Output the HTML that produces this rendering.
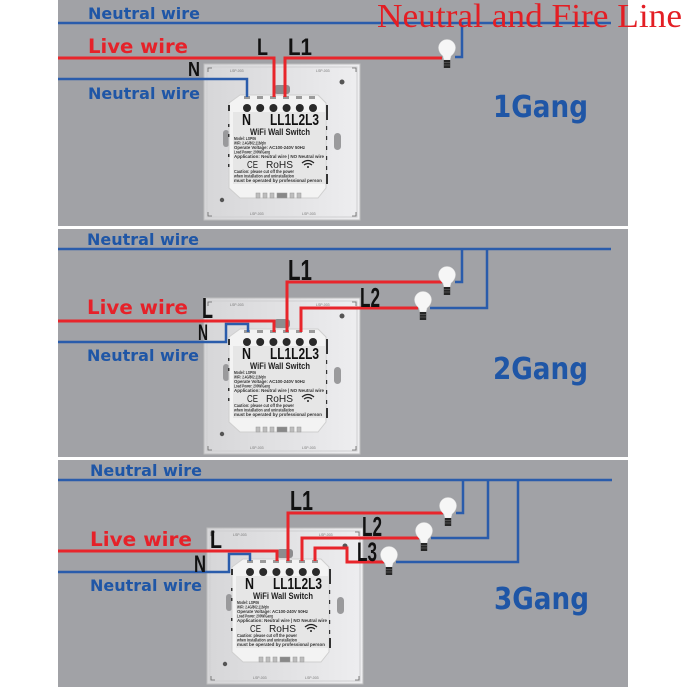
<!DOCTYPE html>
<html><head><meta charset="utf-8"><style>
html,body{margin:0;padding:0;background:#fff;}
svg{display:block;}
</style></head><body>
<svg width="690" height="690" viewBox="0 0 690 690" xmlns="http://www.w3.org/2000/svg">
<defs>
<linearGradient id="pg" x1="0" y1="0" x2="1" y2="0">
<stop offset="0" stop-color="#d6d6d8"/><stop offset="0.6" stop-color="#e4e4e6"/><stop offset="1" stop-color="#eeeef0"/>
</linearGradient>
</defs>
<rect width="690" height="690" fill="#fff"/>
<!-- panels -->
<rect x="58" y="0" width="570" height="226" fill="#a1a2a6"/>
<rect x="58" y="229" width="570" height="228" fill="#a1a2a6"/>
<rect x="58" y="460" width="570" height="227" fill="#a1a2a6"/>

<!-- ===== switch 1 ===== -->
<g transform="translate(204,64)">
 <rect x="0" y="0" width="156" height="156" fill="url(#pg)" stroke="#bdbdbf"/>
 <rect x="3" y="3" width="150" height="150" fill="none" stroke="#cfcfd1"/>
 <path d="M4 8V4H8M148 4H152V8M4 148V152H8M152 148V152H148" stroke="#666" stroke-width="0.8" fill="none"/>
 <text x="26" y="8" font-family="Liberation Sans, sans-serif" font-size="3.5" fill="#777">LSP-003</text>
 <text x="112" y="8" font-family="Liberation Sans, sans-serif" font-size="3.5" fill="#777">LSP-003</text>
 <text x="46" y="151" font-family="Liberation Sans, sans-serif" font-size="3.5" fill="#777">LSP-003</text>
 <text x="98" y="151" font-family="Liberation Sans, sans-serif" font-size="3.5" fill="#777">LSP-003</text>
 <rect x="70" y="21" width="16" height="9" rx="3" fill="#8c8c8e"/>
 <circle cx="138" cy="18" r="2.5" fill="#555"/>
 <circle cx="18" cy="136" r="2.2" fill="#555"/>
 <rect x="19" y="66" width="6" height="17" rx="3" fill="#9a9a9c"/>
 <rect x="130" y="69" width="7" height="17" rx="3.5" fill="#9a9a9c"/>
 <polygon points="36,31 114,31 122,39 122,124 114,134 36,134 25,124 25,39" fill="#f3f3f3" stroke="#cfcfcf"/>
 <rect x="29" y="48" width="92" height="72" fill="#e6e6e6"/>
 <g fill="#9a9a9a"><rect x="40" y="32" width="6" height="3"/><rect x="53" y="32" width="6" height="3"/><rect x="66" y="32" width="6" height="3"/><rect x="79" y="32" width="6" height="3"/><rect x="92" y="32" width="6" height="3"/><rect x="105" y="32" width="6" height="3"/></g>
 <g fill="#2a2a2a"><circle cx="43" cy="44" r="4"/><circle cx="56.2" cy="44" r="4"/><circle cx="69.4" cy="44" r="4"/><circle cx="82.6" cy="44" r="4"/><circle cx="95.8" cy="44" r="4"/><circle cx="109" cy="44" r="4"/></g>
 <g fill="#333"><rect x="24" y="41" width="2" height="6"/><rect x="122" y="41" width="2" height="15"/><rect x="24" y="60" width="1.5" height="3"/><rect x="24" y="70" width="1.5" height="3"/><rect x="24" y="90" width="1.5" height="3"/><rect x="24" y="100" width="1.5" height="3"/><rect x="122" y="62" width="1.2" height="4"/><rect x="122" y="72" width="1.2" height="4"/><rect x="122" y="82" width="1.2" height="4"/><rect x="122" y="92" width="1.2" height="4"/><rect x="122" y="102" width="1.2" height="4"/><rect x="122" y="110" width="2" height="10"/></g>
 <text x="38" y="61" font-family="Liberation Sans, sans-serif" font-weight="bold" font-size="16" fill="#111" textLength="9" lengthAdjust="spacingAndGlyphs">N</text>
 <text x="66" y="61" font-family="Liberation Sans, sans-serif" font-weight="bold" font-size="16" fill="#111" textLength="49" lengthAdjust="spacingAndGlyphs">LL1L2L3</text>
 <text x="46" y="71" font-family="Liberation Sans, sans-serif" font-weight="bold" font-size="9" fill="#222" textLength="60" lengthAdjust="spacingAndGlyphs">WiFi Wall Switch</text>
 <g font-family="Liberation Sans, sans-serif" font-weight="bold" font-size="4.3" fill="#333">
  <text x="30" y="76" textLength="22" lengthAdjust="spacingAndGlyphs">Model: LSP06</text>
  <text x="30" y="80.5" textLength="32" lengthAdjust="spacingAndGlyphs">WiFi: 2.4G/802.11b/g/n</text>
  <text x="30" y="85" textLength="71" lengthAdjust="spacingAndGlyphs">Operate Voltage: AC100-240V 50Hz</text>
  <text x="30" y="89.5" textLength="36" lengthAdjust="spacingAndGlyphs">Load Power: 200W/Gang</text>
  <text x="30" y="94" textLength="90" lengthAdjust="spacingAndGlyphs">Application: Neutral wire | NO Neutral wire</text>
  <text x="30" y="109" textLength="60" lengthAdjust="spacingAndGlyphs">Caution: please cut off the power</text>
  <text x="30" y="113.5" textLength="60" lengthAdjust="spacingAndGlyphs">when installation and uninstallation</text>
  <text x="30" y="118" textLength="88" lengthAdjust="spacingAndGlyphs">must be operated by professional person</text>
 </g>
 <text x="43" y="104" font-family="Liberation Sans, sans-serif" font-size="10" fill="#222" textLength="11" lengthAdjust="spacingAndGlyphs">CE</text>
 <text x="62" y="104" font-family="Liberation Sans, sans-serif" font-size="10" fill="#222" textLength="27" lengthAdjust="spacingAndGlyphs">RoHS</text>
 <g fill="none" stroke="#222" stroke-width="1.2"><path d="M98 99 Q104 94 110 99"/><path d="M100 101 Q104 98 108 101"/></g><circle cx="104" cy="103" r="1" fill="#222"/>
 <g fill="#bdbdbd" stroke="#999" stroke-width="0.5"><rect x="52" y="129" width="4" height="5"/><rect x="59" y="129" width="4" height="5"/><rect x="66" y="129" width="4" height="5"/><rect x="73" y="129" width="10" height="5" fill="#888"/><rect x="86" y="129" width="4" height="5"/><rect x="93" y="129" width="4" height="5"/></g>
</g>

<!-- ===== switch 2 ===== -->
<g transform="translate(204,298)">
 <rect x="0" y="0" width="156" height="156" fill="url(#pg)" stroke="#bdbdbf"/>
 <rect x="3" y="3" width="150" height="150" fill="none" stroke="#cfcfd1"/>
 <path d="M4 8V4H8M148 4H152V8M4 148V152H8M152 148V152H148" stroke="#666" stroke-width="0.8" fill="none"/>
 <text x="26" y="8" font-family="Liberation Sans, sans-serif" font-size="3.5" fill="#777">LSP-003</text>
 <text x="112" y="8" font-family="Liberation Sans, sans-serif" font-size="3.5" fill="#777">LSP-003</text>
 <text x="46" y="151" font-family="Liberation Sans, sans-serif" font-size="3.5" fill="#777">LSP-003</text>
 <text x="98" y="151" font-family="Liberation Sans, sans-serif" font-size="3.5" fill="#777">LSP-003</text>
 <rect x="70" y="21" width="16" height="9" rx="3" fill="#8c8c8e"/>
 <circle cx="138" cy="18" r="2.5" fill="#555"/>
 <circle cx="18" cy="136" r="2.2" fill="#555"/>
 <rect x="19" y="66" width="6" height="17" rx="3" fill="#9a9a9c"/>
 <rect x="130" y="69" width="7" height="17" rx="3.5" fill="#9a9a9c"/>
 <polygon points="36,31 114,31 122,39 122,124 114,134 36,134 25,124 25,39" fill="#f3f3f3" stroke="#cfcfcf"/>
 <rect x="29" y="48" width="92" height="72" fill="#e6e6e6"/>
 <g fill="#9a9a9a"><rect x="40" y="32" width="6" height="3"/><rect x="53" y="32" width="6" height="3"/><rect x="66" y="32" width="6" height="3"/><rect x="79" y="32" width="6" height="3"/><rect x="92" y="32" width="6" height="3"/><rect x="105" y="32" width="6" height="3"/></g>
 <g fill="#2a2a2a"><circle cx="43" cy="44" r="4"/><circle cx="56.2" cy="44" r="4"/><circle cx="69.4" cy="44" r="4"/><circle cx="82.6" cy="44" r="4"/><circle cx="95.8" cy="44" r="4"/><circle cx="109" cy="44" r="4"/></g>
 <g fill="#333"><rect x="24" y="41" width="2" height="6"/><rect x="122" y="41" width="2" height="15"/><rect x="24" y="60" width="1.5" height="3"/><rect x="24" y="70" width="1.5" height="3"/><rect x="24" y="90" width="1.5" height="3"/><rect x="24" y="100" width="1.5" height="3"/><rect x="122" y="62" width="1.2" height="4"/><rect x="122" y="72" width="1.2" height="4"/><rect x="122" y="82" width="1.2" height="4"/><rect x="122" y="92" width="1.2" height="4"/><rect x="122" y="102" width="1.2" height="4"/><rect x="122" y="110" width="2" height="10"/></g>
 <text x="38" y="61" font-family="Liberation Sans, sans-serif" font-weight="bold" font-size="16" fill="#111" textLength="9" lengthAdjust="spacingAndGlyphs">N</text>
 <text x="66" y="61" font-family="Liberation Sans, sans-serif" font-weight="bold" font-size="16" fill="#111" textLength="49" lengthAdjust="spacingAndGlyphs">LL1L2L3</text>
 <text x="46" y="71" font-family="Liberation Sans, sans-serif" font-weight="bold" font-size="9" fill="#222" textLength="60" lengthAdjust="spacingAndGlyphs">WiFi Wall Switch</text>
 <g font-family="Liberation Sans, sans-serif" font-weight="bold" font-size="4.3" fill="#333">
  <text x="30" y="76" textLength="22" lengthAdjust="spacingAndGlyphs">Model: LSP06</text>
  <text x="30" y="80.5" textLength="32" lengthAdjust="spacingAndGlyphs">WiFi: 2.4G/802.11b/g/n</text>
  <text x="30" y="85" textLength="71" lengthAdjust="spacingAndGlyphs">Operate Voltage: AC100-240V 50Hz</text>
  <text x="30" y="89.5" textLength="36" lengthAdjust="spacingAndGlyphs">Load Power: 200W/Gang</text>
  <text x="30" y="94" textLength="90" lengthAdjust="spacingAndGlyphs">Application: Neutral wire | NO Neutral wire</text>
  <text x="30" y="109" textLength="60" lengthAdjust="spacingAndGlyphs">Caution: please cut off the power</text>
  <text x="30" y="113.5" textLength="60" lengthAdjust="spacingAndGlyphs">when installation and uninstallation</text>
  <text x="30" y="118" textLength="88" lengthAdjust="spacingAndGlyphs">must be operated by professional person</text>
 </g>
 <text x="43" y="104" font-family="Liberation Sans, sans-serif" font-size="10" fill="#222" textLength="11" lengthAdjust="spacingAndGlyphs">CE</text>
 <text x="62" y="104" font-family="Liberation Sans, sans-serif" font-size="10" fill="#222" textLength="27" lengthAdjust="spacingAndGlyphs">RoHS</text>
 <g fill="none" stroke="#222" stroke-width="1.2"><path d="M98 99 Q104 94 110 99"/><path d="M100 101 Q104 98 108 101"/></g><circle cx="104" cy="103" r="1" fill="#222"/>
 <g fill="#bdbdbd" stroke="#999" stroke-width="0.5"><rect x="52" y="129" width="4" height="5"/><rect x="59" y="129" width="4" height="5"/><rect x="66" y="129" width="4" height="5"/><rect x="73" y="129" width="10" height="5" fill="#888"/><rect x="86" y="129" width="4" height="5"/><rect x="93" y="129" width="4" height="5"/></g>
</g>

<!-- ===== switch 3 ===== -->
<g transform="translate(207,528)">
 <rect x="0" y="0" width="156" height="156" fill="url(#pg)" stroke="#bdbdbf"/>
 <rect x="3" y="3" width="150" height="150" fill="none" stroke="#cfcfd1"/>
 <path d="M4 8V4H8M148 4H152V8M4 148V152H8M152 148V152H148" stroke="#666" stroke-width="0.8" fill="none"/>
 <text x="26" y="8" font-family="Liberation Sans, sans-serif" font-size="3.5" fill="#777">LSP-003</text>
 <text x="112" y="8" font-family="Liberation Sans, sans-serif" font-size="3.5" fill="#777">LSP-003</text>
 <text x="46" y="151" font-family="Liberation Sans, sans-serif" font-size="3.5" fill="#777">LSP-003</text>
 <text x="98" y="151" font-family="Liberation Sans, sans-serif" font-size="3.5" fill="#777">LSP-003</text>
 <rect x="70" y="21" width="16" height="9" rx="3" fill="#8c8c8e"/>
 <circle cx="138" cy="18" r="2.5" fill="#555"/>
 <circle cx="18" cy="136" r="2.2" fill="#555"/>
 <rect x="19" y="66" width="6" height="17" rx="3" fill="#9a9a9c"/>
 <rect x="130" y="69" width="7" height="17" rx="3.5" fill="#9a9a9c"/>
 <polygon points="36,31 114,31 122,39 122,124 114,134 36,134 25,124 25,39" fill="#f3f3f3" stroke="#cfcfcf"/>
 <rect x="29" y="48" width="92" height="72" fill="#e6e6e6"/>
 <g fill="#9a9a9a"><rect x="40" y="32" width="6" height="3"/><rect x="53" y="32" width="6" height="3"/><rect x="66" y="32" width="6" height="3"/><rect x="79" y="32" width="6" height="3"/><rect x="92" y="32" width="6" height="3"/><rect x="105" y="32" width="6" height="3"/></g>
 <g fill="#2a2a2a"><circle cx="43" cy="44" r="4"/><circle cx="56.2" cy="44" r="4"/><circle cx="69.4" cy="44" r="4"/><circle cx="82.6" cy="44" r="4"/><circle cx="95.8" cy="44" r="4"/><circle cx="109" cy="44" r="4"/></g>
 <g fill="#333"><rect x="24" y="41" width="2" height="6"/><rect x="122" y="41" width="2" height="15"/><rect x="24" y="60" width="1.5" height="3"/><rect x="24" y="70" width="1.5" height="3"/><rect x="24" y="90" width="1.5" height="3"/><rect x="24" y="100" width="1.5" height="3"/><rect x="122" y="62" width="1.2" height="4"/><rect x="122" y="72" width="1.2" height="4"/><rect x="122" y="82" width="1.2" height="4"/><rect x="122" y="92" width="1.2" height="4"/><rect x="122" y="102" width="1.2" height="4"/><rect x="122" y="110" width="2" height="10"/></g>
 <text x="38" y="61" font-family="Liberation Sans, sans-serif" font-weight="bold" font-size="16" fill="#111" textLength="9" lengthAdjust="spacingAndGlyphs">N</text>
 <text x="66" y="61" font-family="Liberation Sans, sans-serif" font-weight="bold" font-size="16" fill="#111" textLength="49" lengthAdjust="spacingAndGlyphs">LL1L2L3</text>
 <text x="46" y="71" font-family="Liberation Sans, sans-serif" font-weight="bold" font-size="9" fill="#222" textLength="60" lengthAdjust="spacingAndGlyphs">WiFi Wall Switch</text>
 <g font-family="Liberation Sans, sans-serif" font-weight="bold" font-size="4.3" fill="#333">
  <text x="30" y="76" textLength="22" lengthAdjust="spacingAndGlyphs">Model: LSP06</text>
  <text x="30" y="80.5" textLength="32" lengthAdjust="spacingAndGlyphs">WiFi: 2.4G/802.11b/g/n</text>
  <text x="30" y="85" textLength="71" lengthAdjust="spacingAndGlyphs">Operate Voltage: AC100-240V 50Hz</text>
  <text x="30" y="89.5" textLength="36" lengthAdjust="spacingAndGlyphs">Load Power: 200W/Gang</text>
  <text x="30" y="94" textLength="90" lengthAdjust="spacingAndGlyphs">Application: Neutral wire | NO Neutral wire</text>
  <text x="30" y="109" textLength="60" lengthAdjust="spacingAndGlyphs">Caution: please cut off the power</text>
  <text x="30" y="113.5" textLength="60" lengthAdjust="spacingAndGlyphs">when installation and uninstallation</text>
  <text x="30" y="118" textLength="88" lengthAdjust="spacingAndGlyphs">must be operated by professional person</text>
 </g>
 <text x="43" y="104" font-family="Liberation Sans, sans-serif" font-size="10" fill="#222" textLength="11" lengthAdjust="spacingAndGlyphs">CE</text>
 <text x="62" y="104" font-family="Liberation Sans, sans-serif" font-size="10" fill="#222" textLength="27" lengthAdjust="spacingAndGlyphs">RoHS</text>
 <g fill="none" stroke="#222" stroke-width="1.2"><path d="M98 99 Q104 94 110 99"/><path d="M100 101 Q104 98 108 101"/></g><circle cx="104" cy="103" r="1" fill="#222"/>
 <g fill="#bdbdbd" stroke="#999" stroke-width="0.5"><rect x="52" y="129" width="4" height="5"/><rect x="59" y="129" width="4" height="5"/><rect x="66" y="129" width="4" height="5"/><rect x="73" y="129" width="10" height="5" fill="#888"/><rect x="86" y="129" width="4" height="5"/><rect x="93" y="129" width="4" height="5"/></g>
</g>

<!-- ===== wires ===== -->
<g fill="none" stroke-linejoin="miter">
 <!-- panel 1 -->
 <g stroke="#2a5cab" stroke-width="2.5">
  <path d="M58 23H611"/>
  <path d="M455 57H462V23"/>
  <path d="M58 79H247V97"/>
 </g>
 <g stroke="#e8252b" stroke-width="3">
  <path d="M58 58H274V97"/>
  <path d="M285 97V58H442"/>
 </g>
 <!-- panel 2 -->
 <g stroke="#2a5cab" stroke-width="2.5">
  <path d="M58 249H611"/>
  <path d="M455 282H462V249"/>
  <path d="M430 308H487V249"/>
  <path d="M58 342H226V324H248V332"/>
 </g>
 <g stroke="#e8252b" stroke-width="3">
  <path d="M58 321H274V332"/>
  <path d="M287 332V282H442"/>
  <path d="M301 332V308H418"/>
 </g>
 <!-- panel 3 -->
 <g stroke="#2a5cab" stroke-width="2.5">
  <path d="M58 480H612"/>
  <path d="M456 513H463V480"/>
  <path d="M431 538H488V480"/>
  <path d="M396 562H518V480"/>
  <path d="M58 572H229V554H250V561"/>
 </g>
 <g stroke="#e8252b" stroke-width="3">
  <path d="M58 551H277V561"/>
  <path d="M288 561V513H443"/>
  <path d="M302 561V538H419"/>
  <path d="M315 561V548H347V562H384"/>
 </g>
</g>

<!-- ===== bulbs ===== -->
<g>
 <g transform="translate(447,48)"><path d="M-8.5 0A8.5 8.5 0 1 1 8.5 0Q8 5 4 8L3 12H-3L-4 8Q-8 5 -8.5 0Z" fill="#f6f6f6" stroke="#dcdcdc" stroke-width="0.5"/><rect x="-3.2" y="12" width="6.4" height="8" fill="#262626"/><path d="M-3 14.5H3M-3 17H3" stroke="#777" stroke-width="0.6"/></g>
 <g transform="translate(447,275)"><path d="M-8.5 0A8.5 8.5 0 1 1 8.5 0Q8 5 4 8L3 12H-3L-4 8Q-8 5 -8.5 0Z" fill="#f6f6f6" stroke="#dcdcdc" stroke-width="0.5"/><rect x="-3.2" y="12" width="6.4" height="8" fill="#262626"/><path d="M-3 14.5H3M-3 17H3" stroke="#777" stroke-width="0.6"/></g>
 <g transform="translate(423,300)"><path d="M-8.5 0A8.5 8.5 0 1 1 8.5 0Q8 5 4 8L3 12H-3L-4 8Q-8 5 -8.5 0Z" fill="#f6f6f6" stroke="#dcdcdc" stroke-width="0.5"/><rect x="-3.2" y="12" width="6.4" height="8" fill="#262626"/><path d="M-3 14.5H3M-3 17H3" stroke="#777" stroke-width="0.6"/></g>
 <g transform="translate(448,506)"><path d="M-8.5 0A8.5 8.5 0 1 1 8.5 0Q8 5 4 8L3 12H-3L-4 8Q-8 5 -8.5 0Z" fill="#f6f6f6" stroke="#dcdcdc" stroke-width="0.5"/><rect x="-3.2" y="12" width="6.4" height="8" fill="#262626"/><path d="M-3 14.5H3M-3 17H3" stroke="#777" stroke-width="0.6"/></g>
 <g transform="translate(424,531)"><path d="M-8.5 0A8.5 8.5 0 1 1 8.5 0Q8 5 4 8L3 12H-3L-4 8Q-8 5 -8.5 0Z" fill="#f6f6f6" stroke="#dcdcdc" stroke-width="0.5"/><rect x="-3.2" y="12" width="6.4" height="8" fill="#262626"/><path d="M-3 14.5H3M-3 17H3" stroke="#777" stroke-width="0.6"/></g>
 <g transform="translate(389,555)"><path d="M-8.5 0A8.5 8.5 0 1 1 8.5 0Q8 5 4 8L3 12H-3L-4 8Q-8 5 -8.5 0Z" fill="#f6f6f6" stroke="#dcdcdc" stroke-width="0.5"/><rect x="-3.2" y="12" width="6.4" height="8" fill="#262626"/><path d="M-3 14.5H3M-3 17H3" stroke="#777" stroke-width="0.6"/></g>
</g>

<!-- ===== wire texts ===== -->
<g font-family="DejaVu Sans, sans-serif" font-weight="bold">
 <text x="88" y="19" font-size="16" fill="#1f56a6" textLength="112" lengthAdjust="spacingAndGlyphs">Neutral wire</text>
 <text x="88" y="53" font-size="19.5" fill="#e62129" textLength="100" lengthAdjust="spacingAndGlyphs">Live wire</text>
 <text x="88" y="99" font-size="16" fill="#1f56a6" textLength="112" lengthAdjust="spacingAndGlyphs">Neutral wire</text>

 <text x="87" y="245" font-size="16" fill="#1f56a6" textLength="112" lengthAdjust="spacingAndGlyphs">Neutral wire</text>
 <text x="87" y="314" font-size="19.5" fill="#e62129" textLength="101" lengthAdjust="spacingAndGlyphs">Live wire</text>
 <text x="87" y="361" font-size="16" fill="#1f56a6" textLength="112" lengthAdjust="spacingAndGlyphs">Neutral wire</text>

 <text x="90" y="476" font-size="16" fill="#1f56a6" textLength="112" lengthAdjust="spacingAndGlyphs">Neutral wire</text>
 <text x="90" y="546" font-size="19.5" fill="#e62129" textLength="102" lengthAdjust="spacingAndGlyphs">Live wire</text>
 <text x="90" y="591" font-size="16" fill="#1f56a6" textLength="112" lengthAdjust="spacingAndGlyphs">Neutral wire</text>

 <text x="493" y="117" font-size="30" fill="#1f56a6" textLength="95" lengthAdjust="spacingAndGlyphs">1Gang</text>
 <text x="493" y="379" font-size="30" fill="#1f56a6" textLength="95" lengthAdjust="spacingAndGlyphs">2Gang</text>
 <text x="494" y="609" font-size="30" fill="#1f56a6" textLength="95" lengthAdjust="spacingAndGlyphs">3Gang</text>
</g>

<!-- ===== terminal labels ===== -->
<g font-family="Liberation Sans, sans-serif" font-weight="bold" fill="#111">
 <text x="257" y="55" font-size="24" textLength="11" lengthAdjust="spacingAndGlyphs">L</text>
 <text x="288" y="55" font-size="24" textLength="24" lengthAdjust="spacingAndGlyphs">L1</text>
 <text x="188" y="76" font-size="20" textLength="12" lengthAdjust="spacingAndGlyphs">N</text>

 <text x="288" y="280" font-size="29" textLength="24" lengthAdjust="spacingAndGlyphs">L1</text>
 <text x="360" y="307" font-size="28" textLength="20" lengthAdjust="spacingAndGlyphs">L2</text>
 <text x="202" y="318" font-size="29" textLength="11" lengthAdjust="spacingAndGlyphs">L</text>
 <text x="198" y="340" font-size="22" textLength="10" lengthAdjust="spacingAndGlyphs">N</text>

 <text x="290" y="510" font-size="28" textLength="23" lengthAdjust="spacingAndGlyphs">L1</text>
 <text x="362" y="536" font-size="28" textLength="20" lengthAdjust="spacingAndGlyphs">L2</text>
 <text x="357" y="561" font-size="27" textLength="20" lengthAdjust="spacingAndGlyphs">L3</text>
 <text x="210" y="548" font-size="25" textLength="12" lengthAdjust="spacingAndGlyphs">L</text>
 <text x="194" y="572" font-size="24" textLength="12" lengthAdjust="spacingAndGlyphs">N</text>
</g>

<!-- header -->
<text x="377" y="27" font-family="Liberation Serif, serif" font-size="34" fill="#e31e24" textLength="305" lengthAdjust="spacingAndGlyphs">Neutral and Fire Line</text>
</svg>
</body></html>
